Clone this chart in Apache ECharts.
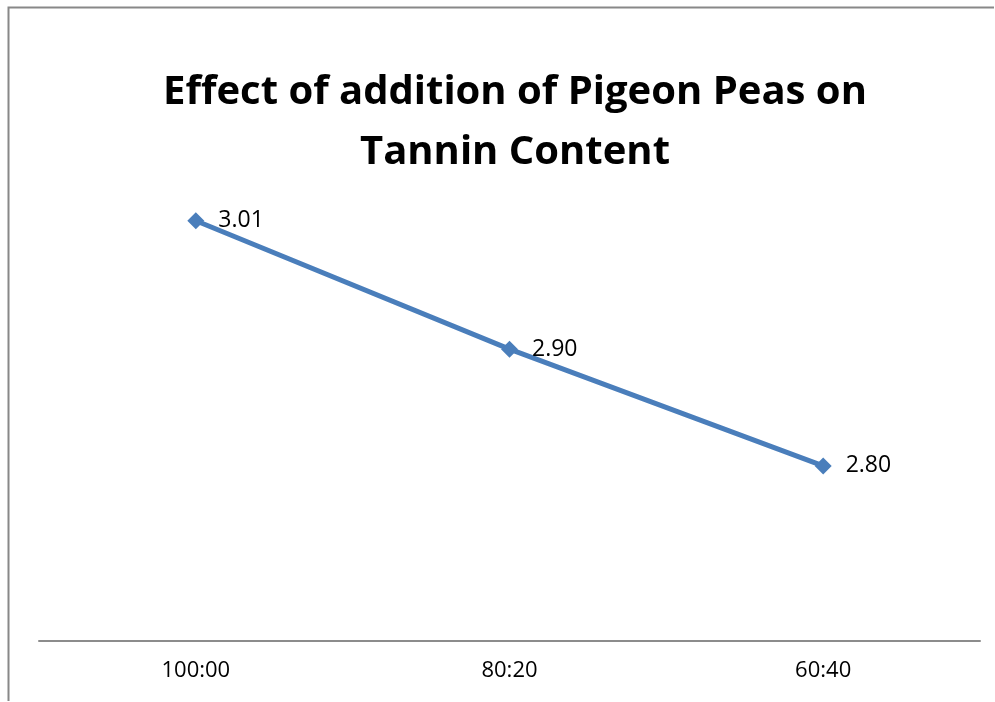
<!DOCTYPE html>
<html>
<head>
<meta charset="utf-8">
<script src="https://cdn.jsdelivr.net/npm/echarts@6/dist/echarts.min.js"></script>
<style>
  html, body { margin: 0; padding: 0; background: #fff; }
  #chart { width: 995px; height: 702px; }
</style>
</head>
<body>
<div id="chart"></div>
<script>
const categories = ['100:00', '80:20', '60:40'];
const tanninValues = [3.01, 2.90, 2.80];
const titleText = 'Effect of addition of Pigeon Peas on\nTannin Content';

const chart = echarts.init(document.getElementById('chart'));

chart.setOption({
  animation: false,
  title: {
    text: titleText,
    left: 510,
    top: 58,
    textAlign: 'center',
    textStyle: {
      fontFamily: 'Open Sans',
      fontWeight: 'bold',
      fontSize: 40,
      lineHeight: 60,
      color: '#000'
    }
  },
  // chart frame: only its top and left edges fall inside the picture
  graphic: [
    {
      type: 'polyline',
      shape: { points: [[8.5, 701], [8.5, 7.5], [994, 7.5]] },
      style: { stroke: '#888', lineWidth: 2, fill: null },
      silent: true
    }
  ],
  grid: {
    left: 39,
    right: 15,
    top: 174,
    bottom: 61
  },
  xAxis: {
    type: 'category',
    data: categories,
    boundaryGap: true,
    axisLine: { lineStyle: { color: '#8c8c8c', width: 2 } },
    axisTick: { show: false },
    axisLabel: {
      margin: 19,
      fontFamily: 'Open Sans',
      fontSize: 22,
      color: '#000'
    }
  },
  yAxis: {
    type: 'value',
    min: 2.65,
    max: 3.05,
    interval: 0.05,
    show: false,
    splitLine: { show: false }
  },
  series: [
    {
      type: 'line',
      data: tanninValues,
      symbol: 'diamond',
      symbolSize: 17,
      lineStyle: { color: '#4a7ebb', width: 5 },
      itemStyle: { color: '#4a7ebb' },
      label: {
        show: true,
        position: 'right',
        distance: 14,
        fontFamily: 'Open Sans',
        fontSize: 23,
        color: '#000',
        formatter: p => p.value.toFixed(2)
      }
    }
  ]
});
</script>
</body>
</html>
